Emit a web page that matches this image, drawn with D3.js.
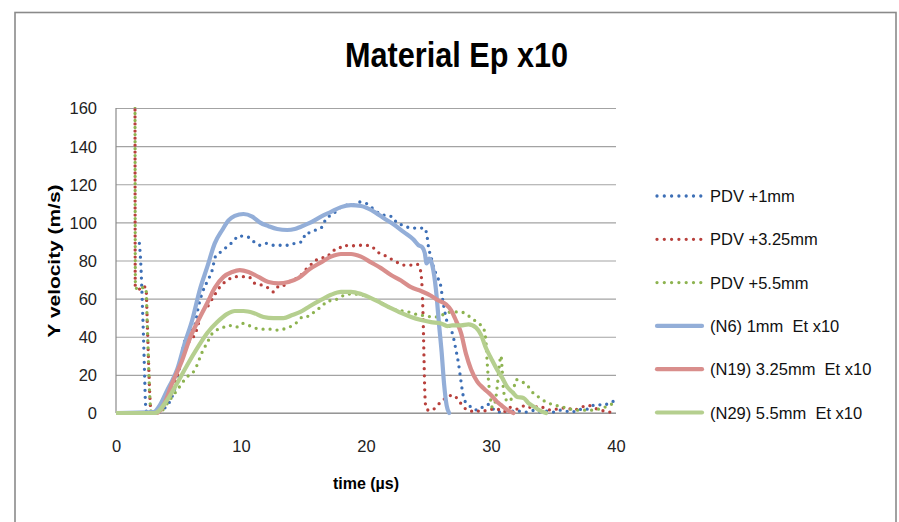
<!DOCTYPE html>
<html><head><meta charset="utf-8">
<script src="https://cdn.jsdelivr.net/npm/d3@7"></script>
<style>
html,body{margin:0;padding:0;background:#fff;}
text{font-family:"Liberation Sans",Arial,sans-serif;}
</style></head>
<body>
<svg id="c" width="899" height="522"></svg>
<script>
// ---- data (time µs, velocity m/s) ----
const xTicks = [0, 10, 20, 30, 40];
const yTicks = [0, 20, 40, 60, 80, 100, 120, 140, 160];
const seriesNames = ["PDV +1mm", "PDV +3.25mm", "PDV +5.5mm", "(N6) 1mm  Et x10", "(N19) 3.25mm  Et x10", "(N29) 5.5mm  Et x10"];

const pdv1 = [[1.87,89],[1.97,80],[2.05,68],[2.12,55],[2.2,40],[2.28,22],[2.36,5],[2.45,0.5],[2.8,0],[3.2,0],[3.8,2],[4.3,6],[4.8,15],[5.2,28],[5.5,38],[5.9,42],[6.3,46],[6.6,56],[6.9,63],[7.3,69],[7.7,75],[7.95,82],[8.5,85],[9.0,88],[9.4,90],[9.8,93],[10.3,92.5],[10.7,92],[11.0,90],[11.5,88],[12.0,89],[12.5,88],[13.1,88],[13.7,88],[14.3,89],[14.9,90],[15.2,94.5],[15.5,94.5],[16.1,96.5],[16.5,97.6],[16.8,102],[17.3,104],[17.9,107.5],[18.4,109],[18.9,109],[19.4,110.7],[20.0,110],[20.5,107.5],[21.0,105],[21.6,103.5],[22.1,103],[22.5,99.5],[23.0,98.5],[23.6,97],[24.1,97],[24.7,97],[24.9,92],[25.0,87],[25.2,82],[25.4,76.5],[25.7,71.5],[26.0,66],[26.1,61],[26.25,55],[26.5,47.5],[26.7,45],[26.9,42],[27.2,33],[27.4,26],[27.55,19],[27.7,12],[27.85,7],[28.1,5],[28.5,2.6],[29.0,1.5],[29.4,3.5],[29.8,4.5],[30.2,2],[30.6,0.5],[31.0,1.5],[31.5,0.5],[32.0,1.5],[32.5,0.5],[33.0,0.5],[33.5,1.5],[34.0,0.5],[34.5,1],[35.0,0.5],[35.5,1.5],[36.0,1],[36.5,0.5],[37.0,2],[37.5,1.5],[38.0,3.5],[38.5,4.5],[39.0,4],[39.5,5.5],[40.0,6.5]];

const pdv325 = [[1.52,170],[1.54,67],[1.7,65],[2.0,65],[2.15,66.5],[2.4,65.5],[2.5,48],[2.6,28],[2.7,10],[2.8,1],[3.1,0],[3.8,4],[4.5,11],[5.1,24],[5.5,33],[5.9,38],[6.3,41],[6.9,53],[7.3,55.6],[7.8,61],[8.3,66],[9.0,70],[9.5,71.5],[10.1,71.5],[10.6,71.5],[11.1,68],[11.7,67],[12.2,65.5],[12.6,63.5],[13.1,67],[13.5,67],[14.1,70],[14.6,71],[15.0,74],[15.8,79],[16.2,81],[16.9,82],[17.3,85],[17.8,86],[18.2,88],[18.8,87.6],[19.3,88],[19.8,88],[20.4,87.6],[20.9,84.5],[21.4,83],[22.0,80.8],[22.5,79],[23.0,77.6],[23.6,77.6],[24.1,78],[24.35,75],[24.5,64],[24.58,47],[24.64,29],[24.7,12],[24.8,2.6],[25.1,1.2],[25.6,3],[26.0,6],[26.5,8.2],[26.9,9.4],[27.4,6.8],[27.8,3],[28.2,1.6],[28.8,0.5],[29.2,1.6],[29.7,1],[30.1,2],[30.5,2],[31.0,0.5],[31.5,3],[32.0,2],[32.8,4],[33.3,2.5],[33.9,3.7],[34.4,2],[34.9,1.5],[35.5,2.5],[36.1,2.6],[36.6,1.5],[37.2,3],[37.8,4],[38.3,2.5],[38.8,1.5],[39.4,0.5],[40.0,0.5]];

const pdv55 = [[1.52,170],[1.55,67],[1.7,65],[2.0,65],[2.2,66],[2.4,65],[2.5,47],[2.6,27],[2.7,9],[2.8,1],[3.4,0],[4.3,6.8],[5.0,13],[5.6,18.4],[6.3,22.6],[6.9,32],[7.3,37],[7.8,42.5],[8.5,44.6],[9.0,46],[9.6,45],[10.1,47],[10.6,46],[11.1,44.6],[11.7,44],[12.3,44],[12.9,43.5],[13.4,44],[14.0,45.5],[14.5,47.7],[15.0,50.7],[15.4,50.7],[16.0,54],[16.5,56],[16.9,58.8],[17.4,59],[18.0,61],[18.5,62.4],[19.0,62.4],[19.6,62],[20.3,60.5],[21.0,58.5],[21.5,57],[22.0,55],[22.5,54],[23.0,53.5],[23.7,52.5],[24.2,51.4],[24.8,51],[25.3,50.4],[25.8,50.4],[26.4,52.5],[27.0,53],[27.6,53],[28.1,51.4],[28.5,49.5],[29.0,47],[29.4,44.5],[29.6,37],[29.7,26],[29.8,17],[29.95,8],[30.1,3],[30.3,5],[30.5,14],[30.65,24],[30.8,30],[30.9,22],[31.0,12],[31.2,7],[31.5,6],[31.8,12],[32.0,17.5],[32.5,16.3],[32.9,14.5],[33.3,11],[33.8,8.4],[34.4,5.8],[34.9,4.5],[35.5,3.5],[36.1,2.6],[36.7,1.5],[37.5,1.5],[38.3,1.5],[38.8,2.5],[39.3,3.5],[39.8,5.2],[40.0,6]];

const n6 = [[0,0],[3.0,0.5],[3.5,4],[4.1,12],[4.5,17],[4.9,23],[5.5,36.7],[6.1,48.8],[6.7,64.5],[7.3,76.6],[7.9,89],[8.5,96],[9.0,101],[9.5,103.4],[10.2,104.4],[10.9,103],[11.5,100],[12.2,98],[12.9,96.5],[13.7,96],[14.3,96.5],[14.75,97.6],[15.5,99.7],[16.4,103],[17.2,105.5],[18.0,108],[18.8,109],[19.6,108.6],[20.1,107.5],[20.8,105],[21.4,102.3],[22.2,99],[23.0,95],[23.8,91],[24.2,88],[24.5,87],[24.7,84],[24.85,78.5],[25.05,81],[25.3,77.6],[25.6,64.5],[25.85,46],[26.05,32],[26.25,15],[26.45,4],[26.65,0]];

const n19 = [[0,0],[3.3,0],[3.8,4],[4.5,15.7],[5.3,27.8],[5.9,39],[6.6,48.8],[7.3,57.7],[7.9,65.6],[8.6,71.4],[9.3,74],[9.9,75],[10.6,74],[11.4,71.4],[12.2,68.7],[13.0,68],[13.8,68.7],[14.6,70.8],[15.5,75.5],[16.4,79],[17.2,82],[18.0,83.4],[18.8,83.4],[19.6,82],[20.4,79],[21.2,76],[22.0,72.4],[22.8,69.5],[23.6,66],[24.4,64],[25.2,61.5],[25.8,59],[26.4,57],[26.8,54],[27.2,48.5],[27.6,42],[28.0,31],[28.4,23],[28.9,16.5],[29.4,13],[30.0,9.4],[30.5,5.8],[30.8,4.2],[31.3,1.6],[31.8,0]];

const n29 = [[0,0],[3.1,0],[4.1,6.8],[4.9,15.7],[5.7,25.2],[6.5,34],[7.3,42],[8.1,47.7],[8.9,52],[9.5,53.5],[10.2,53.5],[11.0,52.5],[11.8,50.4],[12.6,49.8],[13.4,49.8],[14.1,51.4],[14.75,53],[15.5,56],[16.4,59.3],[17.2,62],[18.0,63.5],[18.8,63.5],[19.6,62.4],[20.4,60.3],[21.2,57.7],[22.0,55],[22.8,52.5],[23.6,50.4],[24.4,48.8],[25.2,47.7],[26.0,47],[26.5,45.6],[26.9,46],[27.6,46],[28.2,46.5],[28.8,44.8],[29.2,41],[29.6,34],[30.0,28.8],[30.5,22.6],[30.9,18.4],[31.3,13.6],[31.7,11],[32.1,8.4],[32.6,7.9],[33.0,5.2],[33.6,2.6],[34.0,1],[34.4,0]];

// ---- styles ----
const seriesData = [pdv1, pdv325, pdv55, n6, n19, n29];
const colors = ["#3d6fb6", "#b8403c", "#8db350", "#93aed8", "#d98e8c", "#b5cf8f"];
const dotted = [true, true, true, false, false, false];
const dashOffsets = [0, 0, 3.5, 0, 0, 0];

const svg = d3.select("#c");
const W = 899, H = 522;
const plot = {l: 116, r: 616, t: 108, b: 413};

svg.append("rect").attr("width", W).attr("height", H).attr("fill", "#fff");
// chart border
svg.append("rect").attr("x", 15).attr("y", 12.5).attr("width", 881).attr("height", 530)
  .attr("fill", "none").attr("stroke", "#8a8a8a").attr("stroke-width", 1.6);

const x = d3.scaleLinear().domain([0, 40]).range([plot.l, plot.r]);
const y = d3.scaleLinear().domain([0, 160]).range([plot.b, plot.t]);

// gridlines + y axis labels
const gy = svg.append("g").attr("transform", `translate(${plot.l},0)`)
  .call(d3.axisLeft(y).tickValues(yTicks).tickSize(-(plot.r - plot.l)).tickPadding(19).tickFormat(d3.format("d")));
gy.select(".domain").remove();
gy.selectAll(".tick line").attr("stroke", "#a3a3a3").attr("stroke-width", 1.2);
gy.selectAll(".tick text").attr("font-size", 16.5).attr("fill", "#222").attr("dy", "0.36em");

// x axis
const gx = svg.append("g").attr("transform", `translate(0,${plot.b})`)
  .call(d3.axisBottom(x).tickValues(xTicks).tickSize(0).tickPadding(27).tickFormat(d3.format("d")));
gx.select(".domain").remove();
gx.selectAll(".tick text").attr("font-size", 16.5).attr("fill", "#222");

// axis lines
svg.append("line").attr("x1", plot.l).attr("x2", plot.l).attr("y1", plot.t).attr("y2", plot.b)
  .attr("stroke", "#8a8a8a").attr("stroke-width", 1.2);
svg.append("line").attr("x1", plot.l).attr("x2", plot.r).attr("y1", plot.b).attr("y2", plot.b)
  .attr("stroke", "#8a8a8a").attr("stroke-width", 1.2);

// clip
svg.append("clipPath").attr("id", "pc").append("rect")
  .attr("x", plot.l).attr("y", plot.t - 1).attr("width", plot.r - plot.l + 3).attr("height", plot.b - plot.t + 8);

const line = d3.line().x(d => x(d[0])).y(d => y(d[1])).curve(d3.curveMonotoneX);
const gLines = svg.append("g").attr("clip-path", "url(#pc)");
seriesData.forEach((s, i) => {
  const p = gLines.append("path").attr("d", line(s)).attr("fill", "none").attr("stroke", colors[i]);
  if (dotted[i]) {
    p.attr("stroke-width", 3.3).attr("stroke-dasharray", "0 7").attr("stroke-dashoffset", dashOffsets[i])
     .attr("stroke-linecap", "round");
  } else {
    p.attr("stroke-width", 4.2).attr("stroke-linejoin", "round").attr("stroke-linecap", "round");
  }
});

// title
svg.append("text").attr("x", 456.5).attr("y", 67).attr("text-anchor", "middle")
  .attr("font-size", 35).attr("font-weight", "bold").attr("fill", "#000")
  .attr("textLength", 223).attr("lengthAdjust", "spacingAndGlyphs").text("Material Ep x10");

// axis titles
svg.append("text").attr("x", 366).attr("y", 489).attr("text-anchor", "middle")
  .attr("font-size", 16).attr("font-weight", "bold").attr("fill", "#000").text("time (µs)");
svg.append("text").attr("transform", "translate(60,261) rotate(-90)").attr("text-anchor", "middle")
  .attr("font-size", 17).attr("font-weight", "bold").attr("fill", "#000")
  .attr("textLength", 153).attr("lengthAdjust", "spacingAndGlyphs").text("Y velocity (m/s)");

// legend
const lg = svg.append("g");
seriesNames.forEach((n, i) => {
  const cy = 196 + i * 43.3;
  const l = lg.append("line").attr("x1", 657).attr("x2", 702).attr("y1", cy).attr("y2", cy).attr("stroke", colors[i]);
  if (dotted[i]) l.attr("stroke-width", 3.3).attr("stroke-dasharray", "0 7.3").attr("stroke-linecap", "round");
  else l.attr("stroke-width", 4.2).attr("stroke-linecap", "round");
  lg.append("text").attr("x", 710).attr("y", cy + 6).attr("font-size", 16.5).attr("fill", "#111")
    .style("white-space", "pre").text(n);
});
</script>
</body></html>
